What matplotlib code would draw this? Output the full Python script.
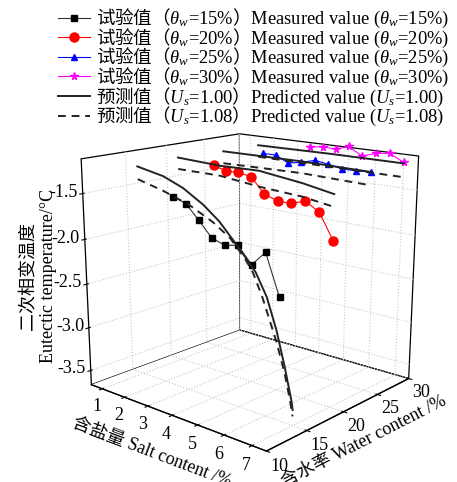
import numpy as np
import matplotlib
matplotlib.use('Agg')
import matplotlib.pyplot as plt

plt.rcParams['font.family'] = ['Liberation Serif', 'Noto Sans CJK SC']
# custom mathtext so that CJK text can sit inside \mathrm{} in the legend
plt.rcParams['mathtext.fontset'] = 'custom'
plt.rcParams['mathtext.rm'] = 'Noto Sans CJK SC'
plt.rcParams['mathtext.it'] = 'Liberation Serif:italic'
plt.rcParams['axes.unicode_minus'] = False
plt.rcParams['font.size'] = 13
plt.rcParams['grid.color'] = '#c8c8c8'
plt.rcParams['grid.linestyle'] = ':'
plt.rcParams['grid.linewidth'] = 0.8

# measured eutectic temperature, one list per water content
salt_15 = [2.5, 3.0, 3.5, 4.0, 4.5, 5.0, 5.5, 6.0, 6.5]
temp_15 = [-1.53, -1.58, -1.73, -1.89, -1.94, -1.91, -2.08, -1.92, -2.35]
salt_20 = [2.5, 3.0, 3.5, 4.0, 4.5, 5.0, 5.5, 6.0, 6.5, 7.0]
temp_20 = [-1.27, -1.32, -1.31, -1.34, -1.50, -1.55, -1.55, -1.50, -1.59, -1.86]
salt_25 = [3.0, 3.5, 4.0, 4.5, 5.0, 5.5, 6.0, 6.5, 7.0]
temp_25 = [-1.20, -1.20, -1.27, -1.24, -1.20, -1.22, -1.25, -1.25, -1.24]
salt_30 = [3.5, 4.0, 4.5, 5.0, 5.5, 6.0, 6.5, 7.0]
temp_30 = [-1.18, -1.16, -1.17, -1.12, -1.21, -1.16, -1.14, -1.22]

# predicted curves, Us = 1.00 (solid) and Us = 1.08 (dashed)
p100_salt_15 = [1.0, 2.1, 2.9, 3.7, 4.3, 4.8, 5.25, 5.65, 6.05, 6.4, 6.7, 6.95, 7.0]
p100_temp_15 = [-1.27, -1.33, -1.42, -1.56, -1.70, -1.86, -2.01, -2.15, -2.38, -2.70, -3.06, -3.40, -3.50]
p108_salt_15 = [1.0, 2.1, 3.15, 4.05, 4.7, 5.25, 5.55, 5.9, 6.4, 6.7, 6.9, 7.0]
p108_temp_15 = [-1.41, -1.49, -1.59, -1.72, -1.85, -2.03, -2.16, -2.40, -2.82, -3.13, -3.40, -3.57]
p100_salt_20 = [1.0, 2.75, 4.3, 5.9, 7.0]
p100_temp_20 = [-1.25, -1.27, -1.26, -1.32, -1.38]
p108_salt_20 = [1.0, 2.75, 4.3, 5.9, 7.0]
p108_temp_20 = [-1.38, -1.38, -1.43, -1.46, -1.51]
p100_salt_25 = [1.33, 4.5, 7.0]
p100_temp_25 = [-1.24, -1.23, -1.24]
p108_salt_25 = [1.33, 4.5, 7.0]
p108_temp_25 = [-1.38, -1.36, -1.38]
p100_salt_30 = [1.33, 4.3, 7.0]
p100_temp_30 = [-1.24, -1.23, -1.23]
p108_salt_30 = [1.33, 7.0]
p108_temp_30 = [-1.38, -1.38]

water_levels = [15, 20, 25, 30]
salt_ticks = [1, 2, 3, 4, 5, 6, 7]
water_ticks = [10, 15, 20, 25, 30]
temp_ticks = [-3.5, -3.0, -2.5, -2.0, -1.5]

fig = plt.figure(figsize=(4.57, 4.82), dpi=100)
ax = fig.add_axes([0.1116, 0.0182, 0.8534, 0.8091], projection='3d')
ax.view_init(elev=15.73, azim=-48.81)
ax.set_proj_type('persp', focal_length=0.485)
ax.set_box_aspect((4 * 1.03, 4, 3 * 1.36))

measured = [(salt_15, temp_15), (salt_20, temp_20), (salt_25, temp_25), (salt_30, temp_30)]
styles = [dict(color='#333333', marker='s', ms=4.5, mfc='k', mec='k'),
          dict(color='red', marker='o', ms=6.5, mfc='red', mec='red'),
          dict(color='blue', marker='^', ms=5, mfc='blue', mec='blue'),
          dict(color='magenta', marker='*', ms=5.5, mfc='magenta', mec='magenta')]
handles = []
for (s, t), w, st in zip(measured, water_levels, styles):
    h, = ax.plot(s, [w] * len(s), t, lw=0.8, **st,
                 label=r'$\mathrm{试验值（}\theta_w$=%d%%$\mathrm{）}$Measured value ($\theta_w$=%d%%)' % (w, w))
    handles.append(h)

pred_100 = [(p100_salt_15, p100_temp_15), (p100_salt_20, p100_temp_20),
            (p100_salt_25, p100_temp_25), (p100_salt_30, p100_temp_30)]
pred_108 = [(p108_salt_15, p108_temp_15), (p108_salt_20, p108_temp_20),
            (p108_salt_25, p108_temp_25), (p108_salt_30, p108_temp_30)]
for i, ((s, t), w) in enumerate(zip(pred_100, water_levels)):
    h, = ax.plot(s, [w] * len(s), t, color='#222222', lw=1.4,
                 label=r'$\mathrm{预测值（}U_s$=1.00$\mathrm{）}$Predicted value ($U_s$=1.00)')
    if i == 0:
        handles.append(h)
for i, ((s, t), w) in enumerate(zip(pred_108, water_levels)):
    h, = ax.plot(s, [w] * len(s), t, color='#222222', lw=1.4, ls=(0, (4, 3)),
                 label=r'$\mathrm{预测值（}U_s$=1.08$\mathrm{）}$Predicted value ($U_s$=1.08)')
    if i == 0:
        handles.append(h)

ax.set_xlim(0.5, 7.5)
ax.set_ylim(10, 30)
ax.set_zlim(-3.67, -1.13)
ax.set_xticks(salt_ticks)
ax.set_yticks(water_ticks)
ax.set_zticks(temp_ticks)
ax.set_zticklabels([])
ax.zaxis.set_ticks_position('lower')
ax.zaxis.set_label_position('lower')
ax.tick_params(axis='x', pad=-3)
ax.tick_params(axis='y', pad=-5)
for lab in ax.get_yticklabels():
    lab.set_ha('left')
# z tick labels set level with their ticks, just left of the z axis
for v in temp_ticks:
    ax.text(0.5 - 0.22, 10, v, '%.1f' % v, ha='right', va='center', fontsize=13)

for axis in (ax.xaxis, ax.yaxis, ax.zaxis):
    axis.set_pane_color((1, 1, 1, 1))
    axis.pane.set_edgecolor('black')
    axis.pane.set_linewidth(0.9)
    axis.line.set_color('black')
    axis.line.set_linewidth(0.9)

ax.set_xlabel('含盐量 Salt content /%', labelpad=-3)
ax.set_ylabel('含水率 Water content /%', labelpad=-6)
ax.zaxis.set_rotate_label(False)
ax.set_zlabel('二次相变温度\nEutectic temperature/°C', labelpad=0, rotation=90)

fig.legend(handles=handles, loc='upper left', bbox_to_anchor=(58 / 457, 1 - 7 / 482),
           frameon=False, fontsize=13.3, handlelength=1.75, handletextpad=0.33,
           labelspacing=-0.19, borderaxespad=0, borderpad=0)

fig.savefig('out.png', dpi=100)
